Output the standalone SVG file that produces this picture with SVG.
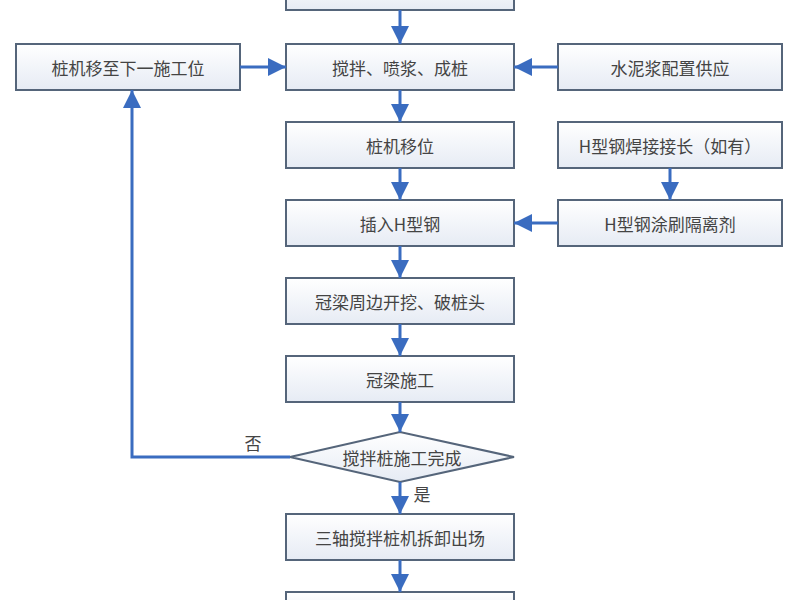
<svg xmlns="http://www.w3.org/2000/svg" width="800" height="600" viewBox="0 0 800 600">
<defs>
<linearGradient id="g" x1="0" y1="0" x2="0" y2="1"><stop offset="0" stop-color="#ffffff"/><stop offset="1" stop-color="#e6ebf4"/></linearGradient>
<marker id="a" viewBox="0 0 10 10" refX="10" refY="5" markerWidth="6" markerHeight="6" markerUnits="strokeWidth" orient="auto"><path d="M0,0L10,5L0,10z" fill="#3a6cc0"/></marker>
<style>
.b{fill:url(#g);stroke:#55657a;stroke-width:2}
.t{font-family:"Noto Sans CJK SC","Liberation Sans",sans-serif;font-size:17px;fill:#444;text-anchor:middle;dominant-baseline:central}
.c{fill:none;stroke:#3a6cc0;stroke-width:3;marker-end:url(#a)}
.l{fill:none;stroke:#3a6cc0;stroke-width:3}
</style>
</defs>
<rect width="800" height="600" fill="#fff"/>
<g id="n0"><rect class="b" x="286" y="-20" width="228" height="30"/></g>
<g id="n1"><rect class="b" x="286" y="44" width="228" height="46"/><text class="t" x="400" y="67">搅拌、喷浆、成桩</text></g>
<g id="n2"><rect class="b" x="16" y="44" width="224" height="46"/><text class="t" x="128" y="67">桩机移至下一施工位</text></g>
<g id="n3"><rect class="b" x="558" y="44" width="224" height="46"/><text class="t" x="670" y="67">水泥浆配置供应</text></g>
<g id="n4"><rect class="b" x="286" y="122" width="228" height="46"/><text class="t" x="400" y="145">桩机移位</text></g>
<g id="n5"><rect class="b" x="558" y="122" width="224" height="46"/><text class="t" x="670" y="145">H型钢焊接接长（如有）</text></g>
<g id="n6"><rect class="b" x="286" y="200" width="228" height="46"/><text class="t" x="400" y="223">插入H型钢</text></g>
<g id="n7"><rect class="b" x="558" y="200" width="224" height="46"/><text class="t" x="670" y="223">H型钢涂刷隔离剂</text></g>
<g id="n8"><rect class="b" x="286" y="278" width="228" height="46"/><text class="t" x="400" y="301">冠梁周边开挖、破桩头</text></g>
<g id="n9"><rect class="b" x="286" y="356" width="228" height="46"/><text class="t" x="400" y="379">冠梁施工</text></g>
<g id="n10"><polygon class="b" points="290,457 400,432 514,457 400,482"/><text class="t" x="402" y="457">搅拌桩施工完成</text></g>
<g id="n11"><rect class="b" x="286" y="514" width="228" height="46"/><text class="t" x="400" y="537">三轴搅拌桩机拆卸出场</text></g>
<g id="n12"><rect class="b" x="286" y="592" width="228" height="30"/></g>
<g id="conn">
<path class="c" d="M400,10V44"/>
<path class="c" d="M240,67H286"/>
<path class="c" d="M558,67H514"/>
<path class="c" d="M400,90V122"/>
<path class="c" d="M670,168V200"/>
<path class="c" d="M400,168V200"/>
<path class="c" d="M558,223H514"/>
<path class="c" d="M400,246V278"/>
<path class="c" d="M400,324V356"/>
<path class="c" d="M400,402V432"/>
<path class="c" d="M400,482V514"/>
<path class="c" d="M400,560V592"/>
<path class="c" d="M290,457H132V90"/>
<text class="t" x="253" y="442">否</text>
<text class="t" x="422" y="493">是</text>
</g>
</svg>
